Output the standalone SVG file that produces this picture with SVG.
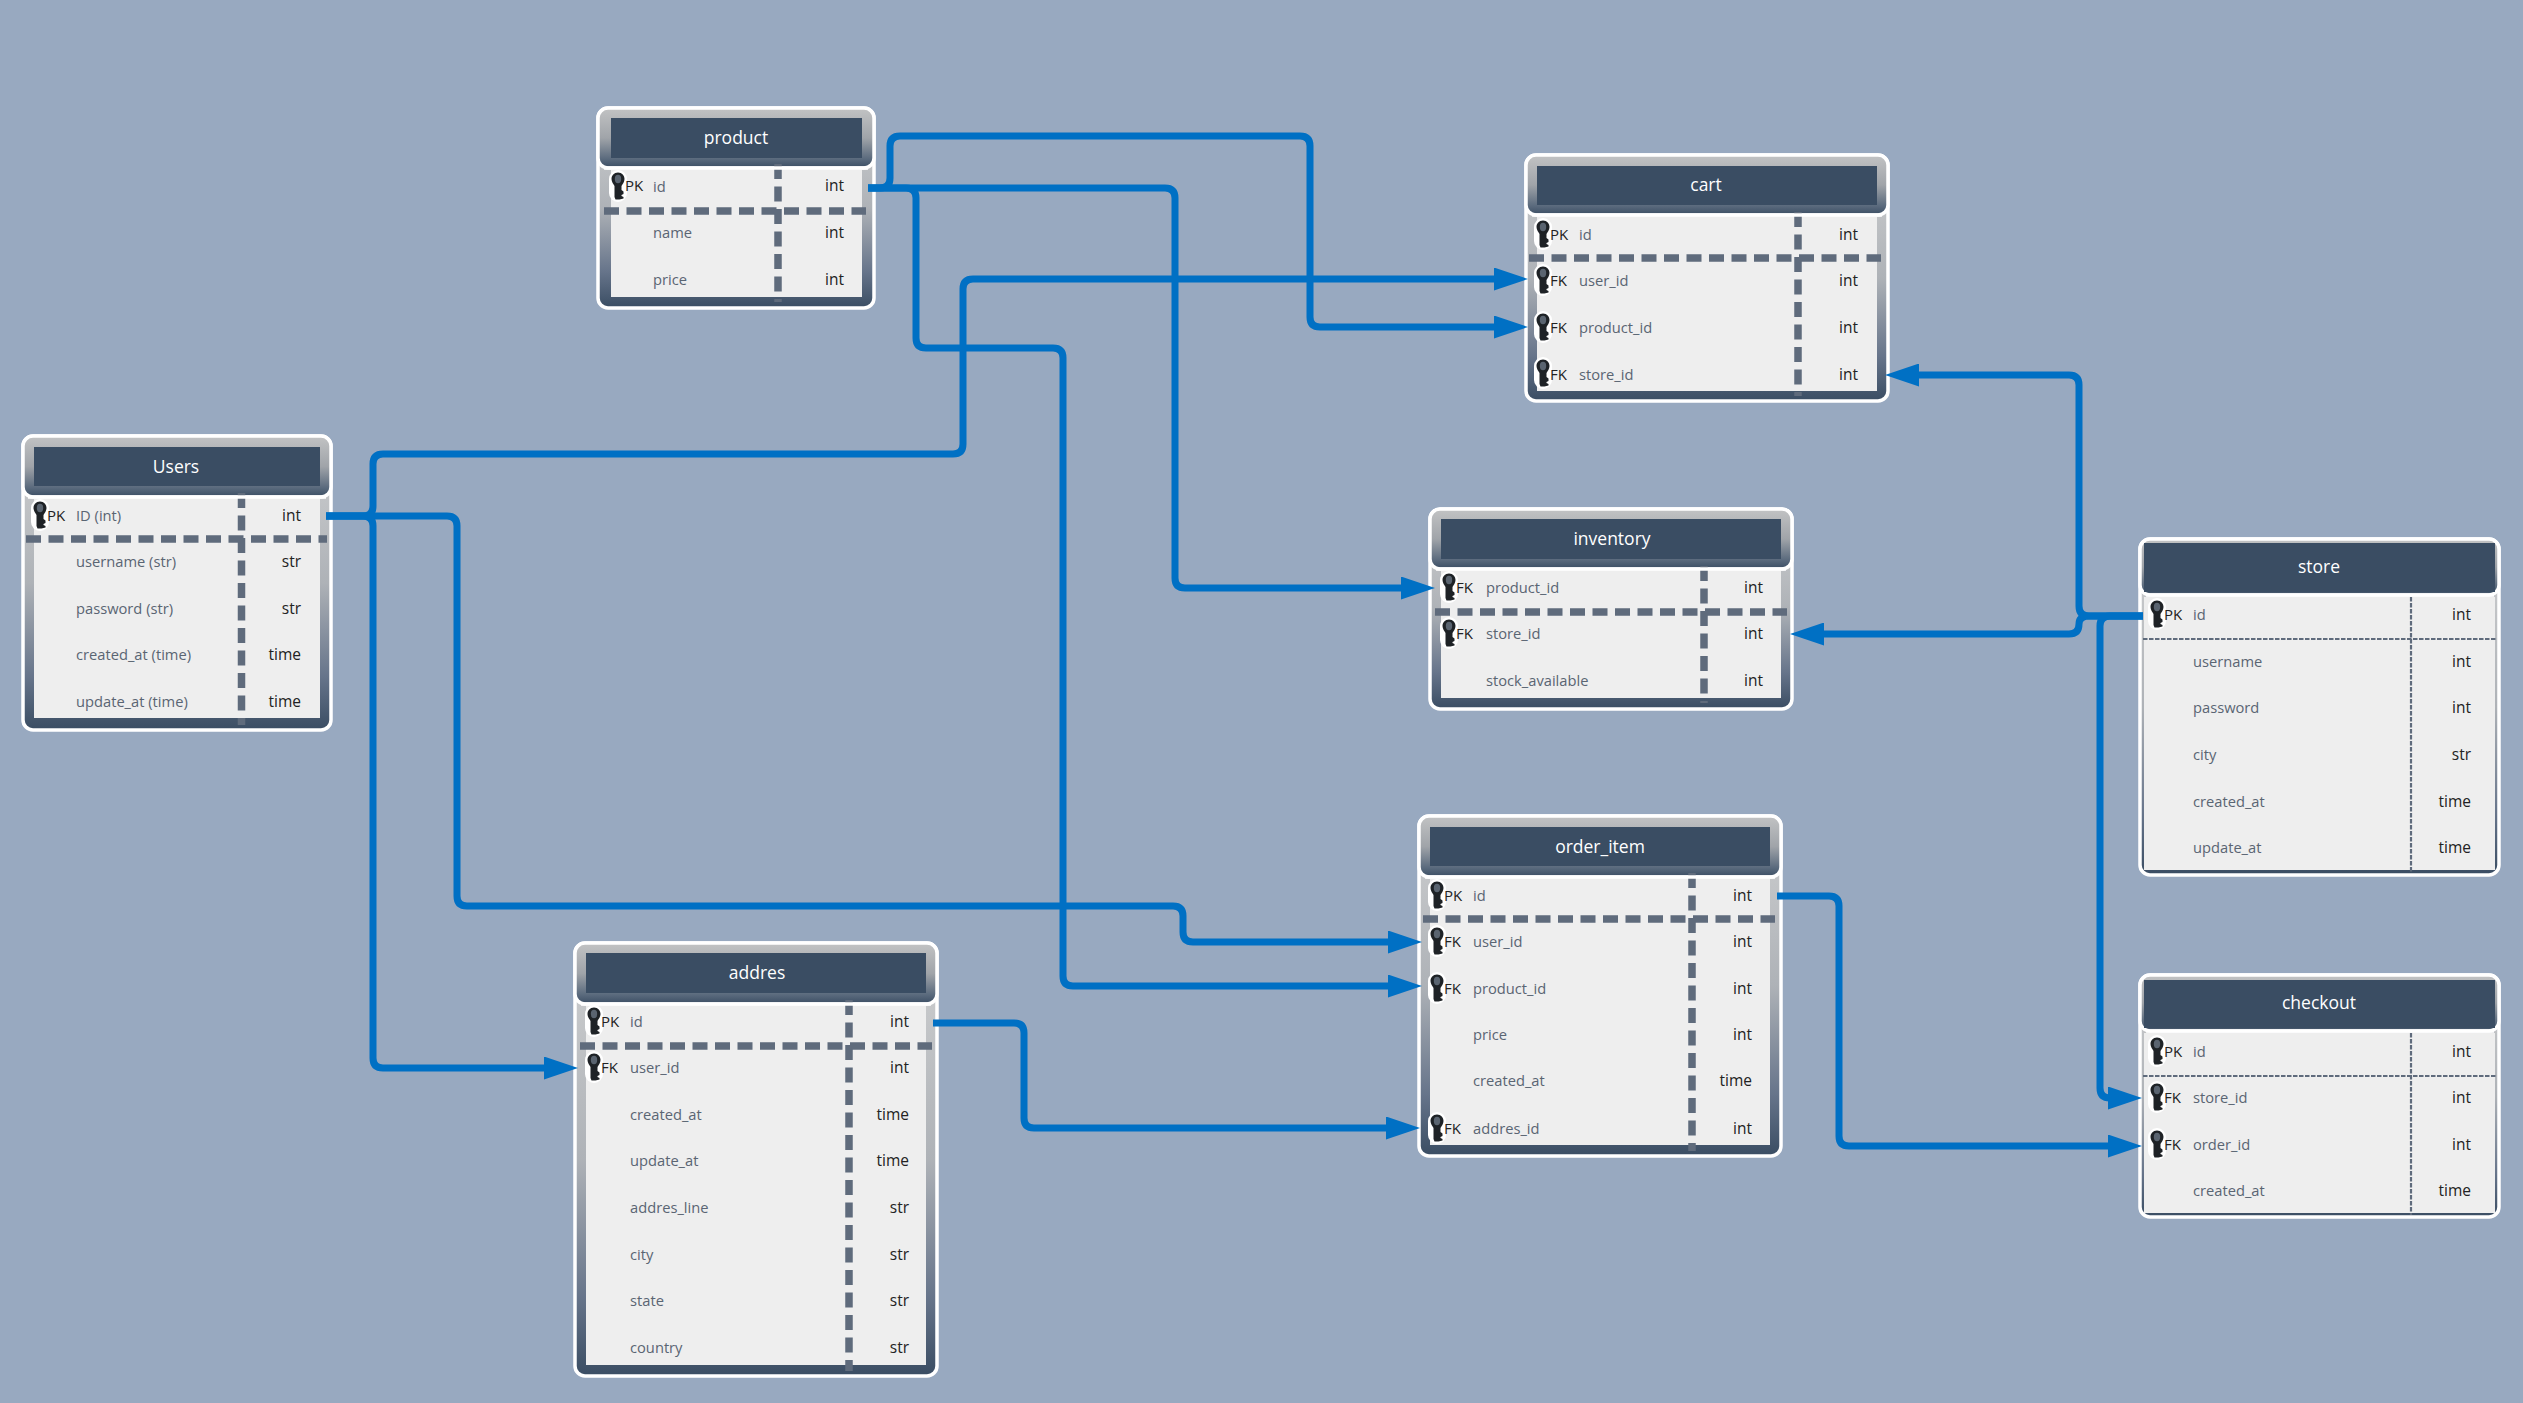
<svg xmlns="http://www.w3.org/2000/svg" xmlns:xlink="http://www.w3.org/1999/xlink" width="2523" height="1403" viewBox="0 0 2523 1403">
<style>
text{font-family:"Open Sans","Noto Sans","Liberation Sans",sans-serif}
.bg{fill:#98a9c0}
.o{fill:url(#bz);stroke:#fff;stroke-width:3.5}
.h{fill:url(#hz);stroke:#fff;stroke-width:3.5}
.d{fill:#3a4d63}
.b{fill:#eee}
.w{stroke:#fff;stroke-width:3.5}
.dv{fill:none;stroke:#5f6b7c;stroke-width:7.5;stroke-dasharray:15 7.5}
.dt{fill:none;stroke:#5f6b7c;stroke-width:2.2;stroke-dasharray:4.5 1.5}
.ti{fill:#fff;font-size:17.5px;text-anchor:middle}
.n{fill:#5a6573;font-size:14.7px;transform:translateY(-1px)}
.t{fill:#222;font-size:15.5px;text-anchor:end;transform:translateY(-1px)}
.k{fill:#222;font-size:15px;transform:translate(-1px,-1px)}
.c{fill:none;stroke:#0070c4;stroke-width:7;marker-end:url(#ah)}
</style>
<defs>
<linearGradient id="bz" x1="0" y1="0" x2="0" y2="1"><stop offset="0" stop-color="#cfd0d1"/><stop offset=".5" stop-color="#aeb2b7"/><stop offset=".82" stop-color="#66748a"/><stop offset="1" stop-color="#3a4d63"/></linearGradient>
<linearGradient id="hz" x1="0" y1="0" x2="0" y2="1"><stop offset="0" stop-color="#c2c3c4"/><stop offset=".5" stop-color="#a0a4a9"/><stop offset=".85" stop-color="#5a6a7d"/><stop offset="1" stop-color="#3a4d63"/></linearGradient>
<marker id="ah" markerUnits="userSpaceOnUse" markerWidth="34" markerHeight="23" viewBox="0 0 34 23" refX="4" refY="11.5" orient="auto"><path d="M0 0L34 11.5L0 23Z" fill="#0070c4"/></marker>
<g id="key">
<rect x="-9" y="-17" width="18" height="32" rx="9" fill="#fff"/>
<path d="M0-14.5C4-14.5 6.5-11.500 6.500-8C6.500-5 4.500-3 3.500-1V3L5.500 4.500V7L3.500 8V9L5.500 10V11.500L1.500 12.500H-2.500L-3.500 10V-1C-4.500-3-6.500-5-6.500-8C-6.500-11.500-4-14.500 0-14.500Z" fill="#1e2226"/>
<ellipse cx="0" cy="-8" rx="3.200" ry="4.200" fill="#5a6470"/>
</g>
</defs>
<rect class="bg" width="2523" height="1403"/>

<g id="node-product">
<rect class="o" x="598" y="108" width="276" height="200" rx="10"/>
<rect class="h" x="598" y="108" width="276" height="60" rx="10"/>
<rect class="d" x="611" y="118" width="251" height="40"/>
<rect class="b" x="611" y="170" width="251" height="127"/>
<path class="dv" d="M604 211H866M778 164V302"/>
<path class="w" d="M604 168H868"/>
<text class="ti" x="736" y="144">product</text>
<use href="#key" x="618" y="187"/>
<text class="k" x="626" y="192">PK</text><text class="n" x="653" y="193">id</text><text class="t" x="844" y="192">int</text>
<text class="n" x="653" y="239">name</text><text class="t" x="844" y="239">int</text>
<text class="n" x="653" y="286">price</text><text class="t" x="844" y="286">int</text>
</g>

<g id="node-cart">
<rect class="o" x="1526" y="155" width="362" height="246" rx="10"/>
<rect class="h" x="1526" y="155" width="362" height="60" rx="10"/>
<rect class="d" x="1537" y="166" width="340" height="39"/>
<rect class="b" x="1537" y="217" width="340" height="174"/>
<path class="dv" d="M1529 258H1881M1798 212V396"/>
<path class="w" d="M1532 215H1882"/>
<text class="ti" x="1706" y="191">cart</text>
<use href="#key" x="1543" y="235"/><text class="k" x="1551" y="241">PK</text><text class="n" x="1579" y="241">id</text><text class="t" x="1858" y="241">int</text>
<use href="#key" x="1543" y="281"/><text class="k" x="1551" y="287">FK</text><text class="n" x="1579" y="287">user_id</text><text class="t" x="1858" y="287">int</text>
<use href="#key" x="1543" y="328"/><text class="k" x="1551" y="334">FK</text><text class="n" x="1579" y="334">product_id</text><text class="t" x="1858" y="334">int</text>
<use href="#key" x="1543" y="374"/><text class="k" x="1551" y="381">FK</text><text class="n" x="1579" y="381">store_id</text><text class="t" x="1858" y="381">int</text>
</g>

<g id="node-users">
<rect class="o" x="23" y="436" width="308" height="294" rx="10"/>
<rect class="h" x="23" y="436" width="308" height="61" rx="10"/>
<rect class="d" x="34" y="447" width="286" height="39"/>
<rect class="b" x="34" y="499" width="286" height="219"/>
<path class="dv" d="M26 539H327M241.500 493V725"/>
<path class="w" d="M28 497H326"/>
<text class="ti" x="176" y="473">Users</text>
<use href="#key" x="40" y="516"/><text class="k" x="48" y="522">PK</text><text class="n" x="76" y="522">ID (int)</text><text class="t" x="301" y="522">int</text>
<text class="n" x="76" y="568">username (str)</text><text class="t" x="301" y="568">str</text>
<text class="n" x="76" y="615">password (str)</text><text class="t" x="301" y="615">str</text>
<text class="n" x="76" y="661">created_at (time)</text><text class="t" x="301" y="661">time</text>
<text class="n" x="76" y="708">update_at (time)</text><text class="t" x="301" y="708">time</text>
</g>

<g id="node-inventory">
<rect class="o" x="1430" y="509" width="362" height="200" rx="10"/>
<rect class="h" x="1430" y="509" width="362" height="60" rx="10"/>
<rect class="d" x="1441" y="519" width="340" height="40"/>
<rect class="b" x="1441" y="571" width="340" height="127"/>
<path class="dv" d="M1435 612H1787M1704 566V703"/>
<path class="w" d="M1436 569H1786"/>
<text class="ti" x="1612" y="545">inventory</text>
<use href="#key" x="1449" y="588"/><text class="k" x="1457" y="594">FK</text><text class="n" x="1486" y="594">product_id</text><text class="t" x="1763" y="594">int</text>
<use href="#key" x="1449" y="634"/><text class="k" x="1457" y="640">FK</text><text class="n" x="1486" y="640">store_id</text><text class="t" x="1763" y="640">int</text>
<text class="n" x="1486" y="687">stock_available</text><text class="t" x="1763" y="687">int</text>
</g>

<g id="node-store">
<rect class="o" x="2140" y="539" width="359" height="336" rx="10"/>
<rect class="h" x="2140" y="539" width="359" height="56" rx="10"/>
<rect class="d" x="2144" y="543" width="351" height="49"/>
<rect class="b" x="2144" y="597" width="351" height="273"/>
<path class="dt" d="M2143 639H2496M2411 597V872"/>
<path class="w" d="M2146 595H2494"/>
<text class="ti" x="2319" y="573">store</text>
<use href="#key" x="2157" y="615"/><text class="k" x="2165" y="621">PK</text><text class="n" x="2193" y="621">id</text><text class="t" x="2471" y="621">int</text>
<text class="n" x="2193" y="668">username</text><text class="t" x="2471" y="668">int</text>
<text class="n" x="2193" y="714">password</text><text class="t" x="2471" y="714">int</text>
<text class="n" x="2193" y="761">city</text><text class="t" x="2471" y="761">str</text>
<text class="n" x="2193" y="808">created_at</text><text class="t" x="2471" y="808">time</text>
<text class="n" x="2193" y="854">update_at</text><text class="t" x="2471" y="854">time</text>
</g>

<g id="node-order_item">
<rect class="o" x="1419" y="816" width="362" height="340" rx="10"/>
<rect class="h" x="1419" y="816" width="362" height="61" rx="10"/>
<rect class="d" x="1430" y="827" width="340" height="39"/>
<rect class="b" x="1430" y="879" width="340" height="266"/>
<path class="dv" d="M1423 919H1775M1692 873V1151"/>
<path class="w" d="M1425 877H1775"/>
<text class="ti" x="1600" y="853">order_item</text>
<use href="#key" x="1437" y="896"/><text class="k" x="1445" y="902">PK</text><text class="n" x="1473" y="902">id</text><text class="t" x="1752" y="902">int</text>
<use href="#key" x="1437" y="942"/><text class="k" x="1445" y="948">FK</text><text class="n" x="1473" y="948">user_id</text><text class="t" x="1752" y="948">int</text>
<use href="#key" x="1437" y="989"/><text class="k" x="1445" y="995">FK</text><text class="n" x="1473" y="995">product_id</text><text class="t" x="1752" y="995">int</text>
<text class="n" x="1473" y="1041">price</text><text class="t" x="1752" y="1041">int</text>
<text class="n" x="1473" y="1087">created_at</text><text class="t" x="1752" y="1087">time</text>
<use href="#key" x="1437" y="1129"/><text class="k" x="1445" y="1135">FK</text><text class="n" x="1473" y="1135">addres_id</text><text class="t" x="1752" y="1135">int</text>
</g>

<g id="node-addres">
<rect class="o" x="575" y="943" width="362" height="433" rx="10"/>
<rect class="h" x="575" y="943" width="362" height="61" rx="10"/>
<rect class="d" x="586" y="953" width="340" height="40"/>
<rect class="b" x="586" y="1006" width="340" height="359"/>
<path class="dv" d="M580 1046H932M849 1000V1371"/>
<path class="w" d="M581 1004H931"/>
<text class="ti" x="757" y="979">addres</text>
<use href="#key" x="594" y="1022"/><text class="k" x="602" y="1028">PK</text><text class="n" x="630" y="1028">id</text><text class="t" x="909" y="1028">int</text>
<use href="#key" x="594" y="1068"/><text class="k" x="602" y="1074">FK</text><text class="n" x="630" y="1074">user_id</text><text class="t" x="909" y="1074">int</text>
<text class="n" x="630" y="1121">created_at</text><text class="t" x="909" y="1121">time</text>
<text class="n" x="630" y="1167">update_at</text><text class="t" x="909" y="1167">time</text>
<text class="n" x="630" y="1214">addres_line</text><text class="t" x="909" y="1214">str</text>
<text class="n" x="630" y="1261">city</text><text class="t" x="909" y="1261">str</text>
<text class="n" x="630" y="1307">state</text><text class="t" x="909" y="1307">str</text>
<text class="n" x="630" y="1354">country</text><text class="t" x="909" y="1354">str</text>
</g>

<g id="node-checkout">
<rect class="o" x="2140" y="975" width="359" height="242" rx="10"/>
<rect class="h" x="2140" y="975" width="359" height="56" rx="10"/>
<rect class="d" x="2144" y="980" width="351" height="48"/>
<rect class="b" x="2144" y="1033" width="351" height="180"/>
<path class="dt" d="M2143 1076H2496M2411 1033V1215"/>
<path class="w" d="M2146 1031H2494"/>
<text class="ti" x="2319" y="1009">checkout</text>
<use href="#key" x="2157" y="1052"/><text class="k" x="2165" y="1058">PK</text><text class="n" x="2193" y="1058">id</text><text class="t" x="2471" y="1058">int</text>
<use href="#key" x="2157" y="1098"/><text class="k" x="2165" y="1104">FK</text><text class="n" x="2193" y="1104">store_id</text><text class="t" x="2471" y="1104">int</text>
<use href="#key" x="2157" y="1145"/><text class="k" x="2165" y="1151">FK</text><text class="n" x="2193" y="1151">order_id</text><text class="t" x="2471" y="1151">int</text>
<text class="n" x="2193" y="1197">created_at</text><text class="t" x="2471" y="1197">time</text>
</g>

<g id="connectors">
<path class="c" d="M868 188H880Q890 188 890 178V146Q890 136 900 136H1300Q1310 136 1310 146V317Q1310 327 1320 327H1498"/>
<path class="c" d="M868 188H1165Q1175 188 1175 198V578Q1175 588 1185 588H1405"/>
<path class="c" d="M868 188H906Q916 188 916 198V338Q916 348 926 348H1053Q1063 348 1063 358V976Q1063 986 1073 986H1392"/>
<path class="c" d="M326 516H363Q373 516 373 506V464Q373 454 383 454H953Q963 454 963 444V289Q963 279 973 279H1498"/>
<path class="c" d="M326 516H363Q373 516 373 526V1058Q373 1068 383 1068H548"/>
<path class="c" d="M326 516H447Q457 516 457 526V896Q457 906 467 906H1173Q1183 906 1183 916V932Q1183 942 1193 942H1392"/>
<path class="c" d="M933 1023H1014Q1024 1023 1024 1033V1118Q1024 1128 1034 1128H1390"/>
<path class="c" d="M1777 896H1829Q1839 896 1839 906V1136Q1839 1146 1849 1146H2112"/>
<path class="c" d="M2143 616H2110Q2100 616 2100 626V1088Q2100 1098 2110 1098H2112"/>
<path class="c" d="M2143 616H2089Q2079 616 2079 624Q2079 634 2069 634H1820"/>
<path class="c" d="M2143 616H2089Q2079 616 2079 606V385Q2079 375 2069 375H1915"/>
</g>
</svg>
